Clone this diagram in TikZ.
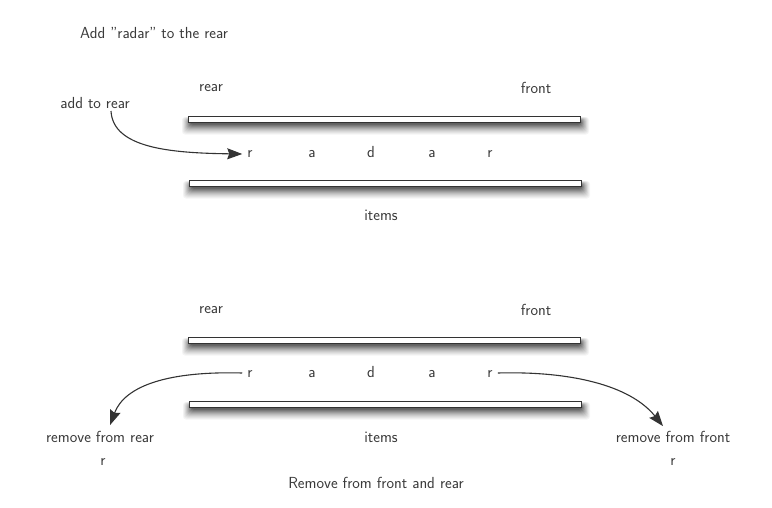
\documentclass[tikz,border=0pt]{standalone}
\usepackage{fontspec}
\usetikzlibrary{arrows.meta}
\definecolor{txt}{HTML}{3A3A3A}
\definecolor{edge}{HTML}{333333}
\newcommand{\qbar}[4]{%
  \foreach \k/\s in {10/4,9/8,8/12,7/17,6/22,5/28,4/34,3/41,2/48,1/55,0/62} {
    \fill[black!\s, rounded corners=3pt]
      ({#1+2-\k*0.8}, {#2+4-\k*0.3}) rectangle ({#3+1+\k*0.8}, {#4+2.5+\k*1.0});
  }
  \draw[draw=edge, line width=1pt, fill=white] (#1,#2) rectangle (#3,#4);
}
\begin{document}
\begin{tikzpicture}[x=1pt,y=-1pt,
  every node/.style={font=\sffamily\fontsize{16}{18}\selectfont, text=txt, inner sep=0pt},
  letter/.style={anchor=base},
  conn/.style={draw=edge, line width=1.1pt, -{Stealth[length=15pt,width=11pt,inset=2pt]}}]
\useasboundingbox (0,0) rectangle (772,507);
% ---------- top part
\node[anchor=west] (title) at (80,33) {Add "radar" to the rear};
\node (rear1) at (211,88) {rear};
\node (front1) at (536,88) {front};
\node (add) at (95,103) {add to rear};
\qbar{188}{116}{580}{122}
\qbar{189}{180}{581}{186}
\node[letter] (t1) at (250,157) {r};
\node[letter] (t2) at (312,157) {a};
\node[letter] (t3) at (371,157) {d};
\node[letter] (t4) at (432,157) {a};
\node[letter] (t5) at (490,157) {r};
\node (items1) at (381,215) {items};
\coordinate (addstart) at (111,111);
\path[conn] (addstart) .. controls (113,148) and (170,153) .. ([xshift=-5pt,yshift=3pt]t1.base west);
% ---------- bottom part
\node (rear2) at (211,310) {rear};
\node (front2) at (536,310) {front};
\qbar{188}{337}{580}{343}
\qbar{189}{401}{581}{407}
\node[letter] (b1) at (250,377) {r};
\node[letter] (b2) at (312,377) {a};
\node[letter] (b3) at (371,377) {d};
\node[letter] (b4) at (432,377) {a};
\node[letter] (b5) at (490,377) {r};
\node (items2) at (381,437) {items};
\node (remrear) at (100,437) {remove from rear};
\node (rr) at (103,462) {r};
\node (remfront) at (673,437) {remove from front};
\node (rf) at (673,462) {r};
\node (caption) at (376,483) {Remove from front and rear};
\path[conn] ([xshift=-5pt,yshift=4pt]b1.base west) .. controls (170,371) and (125,385) .. ([xshift=10pt,yshift=6pt]remrear.north);
\path[conn] ([xshift=5pt,yshift=4pt]b5.base east) .. controls (570,371) and (630,385) .. ([xshift=-10pt,yshift=5pt]remfront.north);
\end{tikzpicture}
\end{document}
